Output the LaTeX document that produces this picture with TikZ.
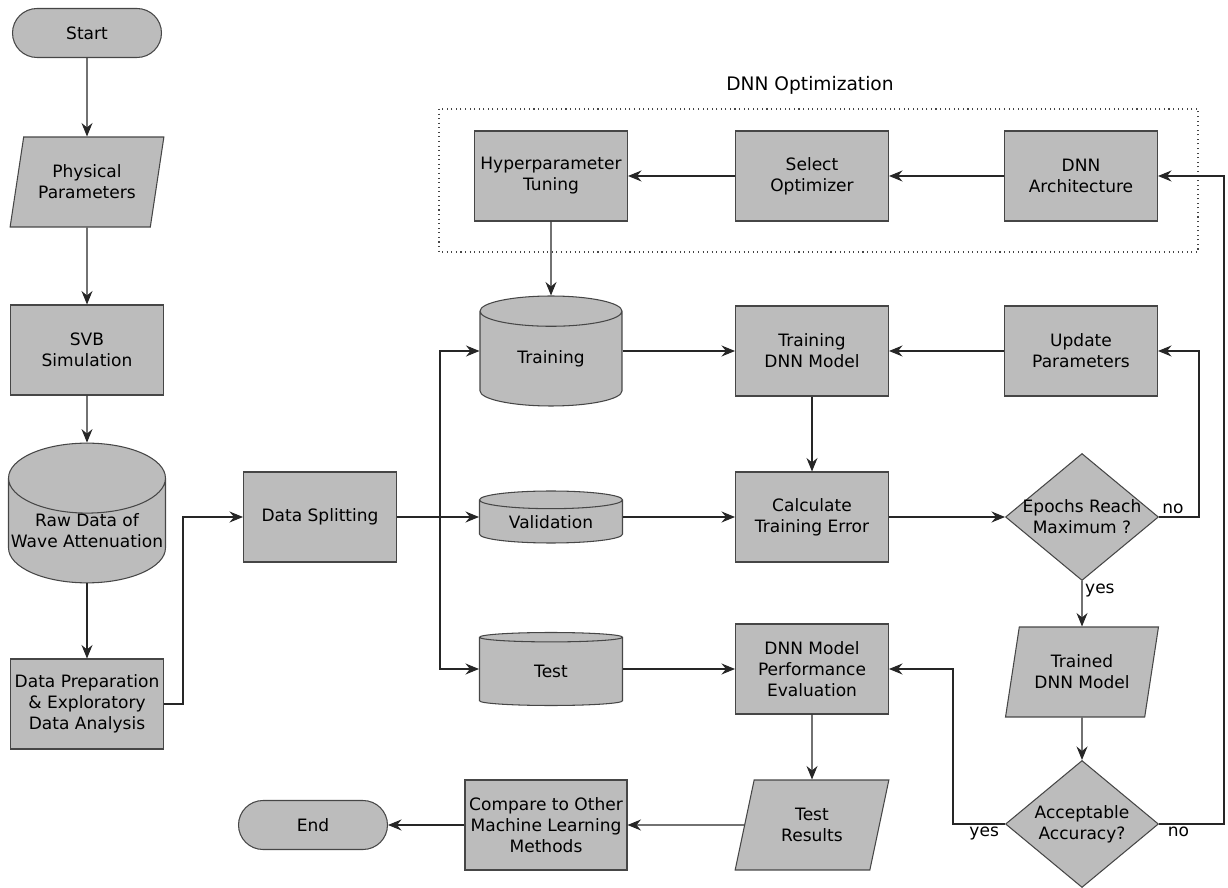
\documentclass[tikz,border=0pt]{standalone}
\usepackage{fontspec}
\setmainfont{DejaVu Sans}
\usetikzlibrary{arrows.meta,shapes.geometric}
\definecolor{boxfill}{RGB}{188,188,188}
\definecolor{boxline}{RGB}{70,70,70}

\begin{document}
\begin{tikzpicture}[
  x=0.02cm, y=-0.02cm,
  >={Stealth[length=2.7mm,width=2.2mm,inset=0.9mm]},
  font=\fontsize{9.7}{12}\selectfont,
  base/.style={draw=boxline,fill=boxfill,line width=0.6pt,align=center,inner sep=1pt},
  term/.style={base,rounded corners=4.9mm,minimum width=2.98cm,minimum height=0.98cm},
  proc/.style={base,minimum width=3.06cm,minimum height=1.8cm},
  io/.style={base,trapezium,trapezium left angle=74,trapezium right angle=106,
    trapezium stretches=true,minimum width=3.08cm,minimum height=1.8cm},
  db/.style={base,cylinder,shape border rotate=90,inner sep=0pt,anchor=shape center},
  decide/.style={base,diamond,aspect=1.2,inner sep=0pt,inner xsep=-1.2mm,
    minimum width=3.06cm,minimum height=2.54cm},
  flow/.style={->,line width=0.6pt,draw=black!85},
  tag/.style={inner sep=1.5pt},
]
\useasboundingbox (0,0) rectangle (1228,888);

% ---------- left column ----------
\node[term] (start) at (87,33) {Start};
\node[io]   (phys)  at (87,182) {Physical\\Parameters};
\node[proc] (svb)   at (87,350) {SVB\\Simulation};
\node[db,minimum width=3.14cm,minimum height=2.72cm,shape aspect=0.46]
  (raw) at (87,513) {Raw Data of\\Wave Attenuation};
\node[proc] (prep)  at (87,704) {Data Preparation\\\& Exploratory\\Data Analysis};

\draw[flow] (start) -- (phys);
\draw[flow] (phys) -- (svb);
\draw[flow] (svb) -- (raw);
\draw[flow] (raw) -- (prep);

% ---------- data split ----------
\node[proc] (split) at (320,517) {Data Splitting};
\node[db,minimum width=2.84cm,minimum height=2.2cm,shape aspect=0.45]
  (train) at (551,351) {Training};
\node[db,minimum width=2.86cm,minimum height=1.04cm,shape aspect=0.21]
  (val) at (551,517) {Validation};
\node[db,minimum width=2.86cm,minimum height=1.46cm,shape aspect=0.28]
  (test) at (551,669) {Test};
\coordinate (fork) at (440,517);

\draw[flow] (prep.east) -- ++(19,0) |- (split.west);
\draw[flow] (split) -- (split -| val.west);
\draw[flow] (fork) |- (train.west |- train.shape center);
\draw[flow] (fork) |- (test.west |- test.shape center);

% ---------- DNN optimization ----------
\node[proc] (hyper) at (551,176) {Hyperparameter\\Tuning};
\node[proc] (sel)   at (812,176) {Select\\Optimizer};
\node[proc] (arch)  at (1081,176) {DNN\\Architecture};
\draw[dotted,boxline,line width=0.6pt] (439,109) rectangle (1198,252);
\node[font=\fontsize{10.6}{12}\selectfont] (opttitle) at (810,85) {DNN Optimization};

\draw[flow] (arch) -- (sel);
\draw[flow] (sel) -- (hyper);
\draw[flow] (hyper) -- (train);

% ---------- training loop ----------
\node[proc] (tdnn)   at (812,351) {Training\\DNN Model};
\node[proc] (update) at (1081,351) {Update\\Parameters};
\node[proc] (calc)   at (812,517) {Calculate\\Training Error};
\node[decide] (epochs) at (1082,517) {Epochs Reach\\Maximum ?};
\node[io]   (trained) at (1082,672) {Trained\\DNN Model};
\node[decide] (acc)  at (1082,824) {Acceptable\\Accuracy?};

\draw[flow] (train.east |- tdnn) -- (tdnn);
\draw[flow] (update) -- (tdnn);
\draw[flow] (tdnn) -- (calc);
\draw[flow] (val.east |- calc) -- (calc);
\draw[flow] (calc) -- (epochs);
\draw[flow] (epochs.east) -- node[tag,above,pos=0.35] {no} ++(40,0) |- (update.east);
\draw[flow] (epochs.south) -- node[tag,anchor=north west,pos=0] {yes} (trained);
\draw[flow] (trained) -- (acc);
\draw[flow] (acc.east) -- node[tag,below,pos=0.3] {no} ++(65,0) |- (arch.east);

% ---------- evaluation ----------
\node[proc] (perf)    at (812,669) {DNN Model\\Performance\\Evaluation};
\node[io]   (results) at (812,825) {Test\\Results};
\node[proc,minimum width=3.24cm] (cmp) at (546,825) {Compare to Other\\Machine Learning\\Methods};
\node[term] (finish)  at (313,825) {End};

\draw[flow] (acc.west) -- node[tag,below,pos=0.4] {yes} ++(-52,0) |- (perf.east);
\draw[flow] (test.east |- perf) -- (perf);
\draw[flow] (perf) -- (results);
\draw[flow] (results) -- (cmp);
\draw[flow] (cmp) -- (finish);

\end{tikzpicture}
\end{document}
